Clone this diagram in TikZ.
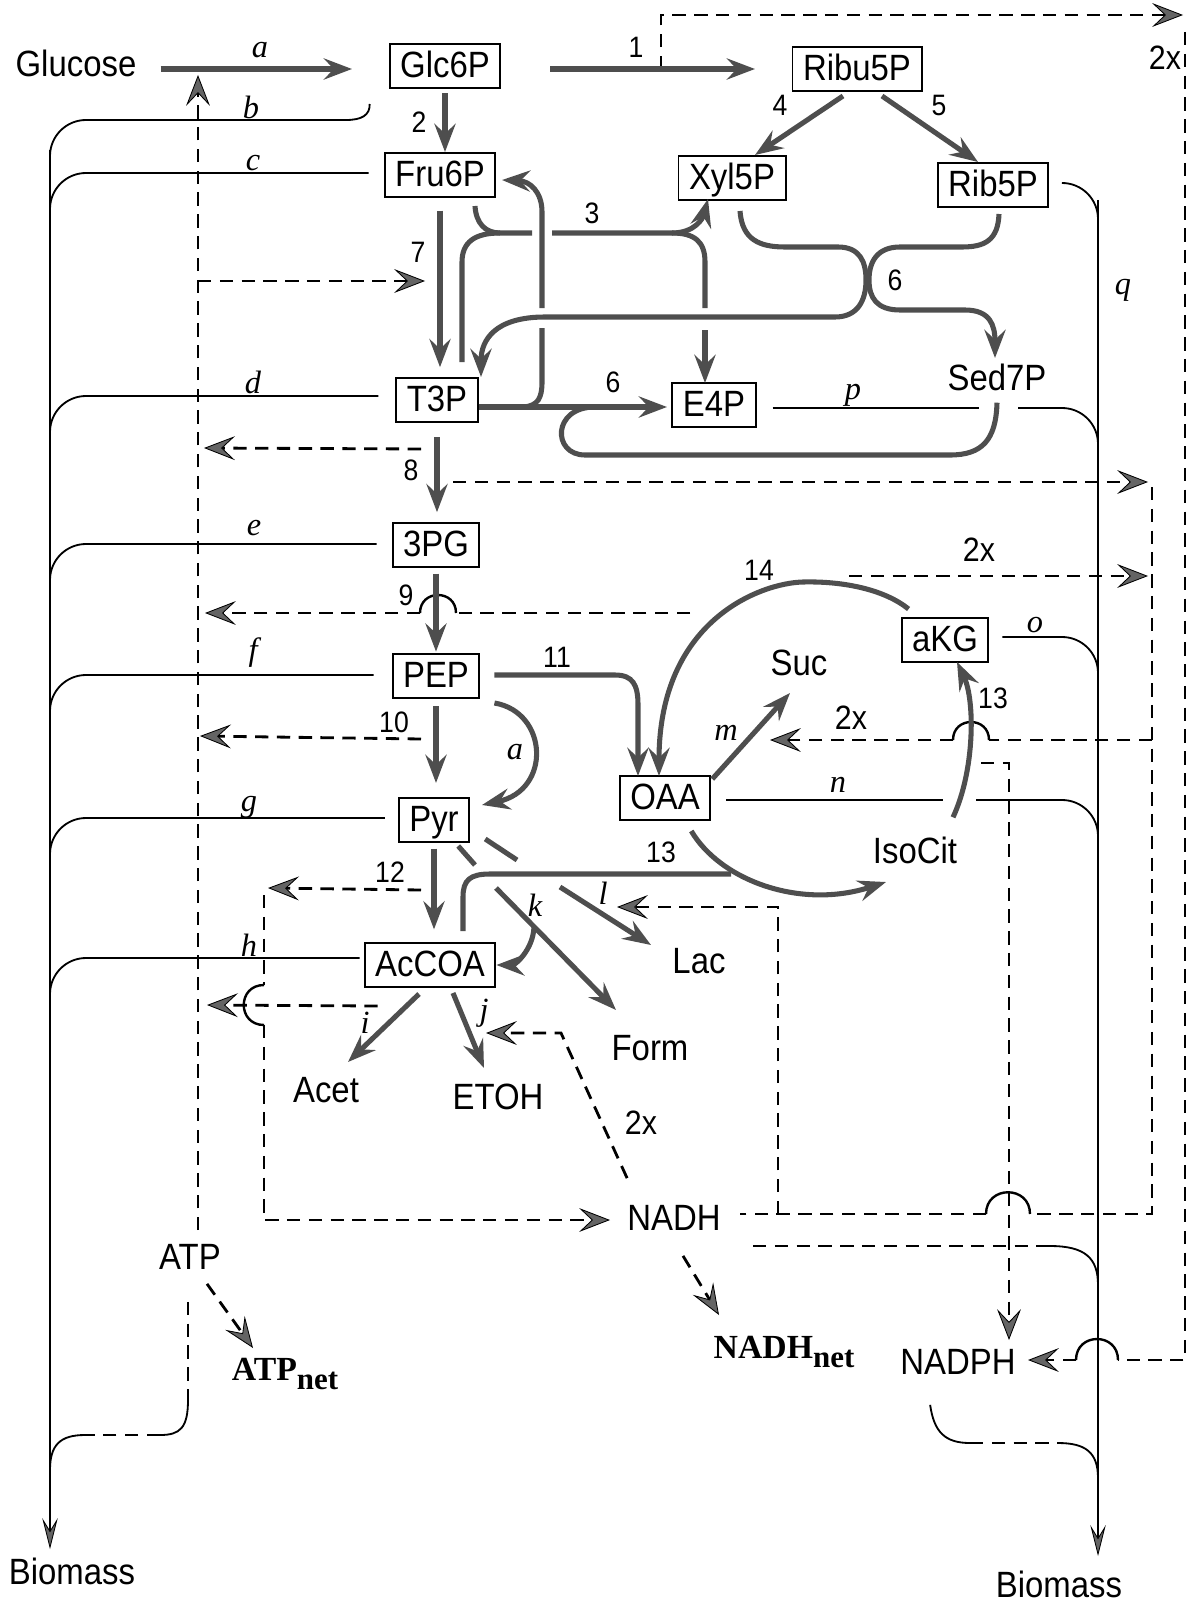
\documentclass[tikz,border=0pt]{standalone}
\usepackage{fontspec}
\setmainfont{Liberation Serif}
\setsansfont{Liberation Sans}[FakeStretch=0.9]
\usetikzlibrary{arrows.meta,positioning}

\definecolor{rxngray}{RGB}{78,78,78}
\definecolor{tipgray}{RGB}{100,100,100}

\newcommand\metfont{\sffamily\fontsize{26}{30}\selectfont}
\newcommand\numfont{\sffamily\fontsize{21}{25}\selectfont}
\newcommand\twoxfont{\sffamily\fontsize{24}{28}\selectfont}
\newcommand\fluxfont{\rmfamily\itshape\fontsize{23}{27}\selectfont}
\newcommand\netfont{\rmfamily\bfseries\fontsize{24}{28}\selectfont}

\tikzset{
  rxn/.style={draw=rxngray, line width=3.6pt},
  rxnarr/.style={rxn, -{Stealth[length=20pt,width=15pt,inset=7pt]}},
  bio/.style={draw=black, line width=1.3pt},
  bioarr/.style={bio, -{Stealth[length=22pt,width=11pt,inset=9pt,fill=tipgray,line width=0.6pt]}},
  cof/.style={draw=black, line width=2pt, dash pattern=on 9.5pt off 6pt},
  cofarr/.style={cof, -{Stealth[length=22pt,width=17pt,inset=9pt,fill=tipgray,line width=0.6pt]}},
  hop/.style={draw=black, line width=1.7pt},
  met/.style={draw, line width=1.4pt, fill=white, font=\metfont,
    inner xsep=7.5pt, inner ysep=2pt, text height=18.7pt, text depth=3pt, minimum height=1.1cm},
  lbl/.style={font=\metfont, inner sep=0pt},
  num/.style={font=\numfont, inner sep=0pt},
  twox/.style={font=\twoxfont, inner sep=0pt},
  flux/.style={font=\fluxfont, inner sep=0pt},
  net/.style={font=\netfont, inner sep=0pt},
}

\begin{document}
\begin{tikzpicture}[x=0.025cm,y=-0.025cm]
\useasboundingbox (0,0) rectangle (1201,1602);

% metabolites
\node[lbl] (glucose) at (76,63) {Glucose};
\node[met] (glc6p) at (445,66) {Glc6P};
\node[met] (ribu5p) at (857,69) {Ribu5P};
\node[met] (xyl5p) at (732,178) {Xyl5P};
\node[met] (rib5p) at (993,185) {Rib5P};
\node[met] (fru6p) at (440,175) {Fru6P};
\node[met] (t3p) at (437,400) {T3P};
\node[met] (e4p) at (714,405) {E4P};
\node[lbl] (sed7p) at (997,377) {Sed7P};
\node[met] (pg3) at (436,545) {3PG};
\node[met] (pep) at (436,676) {PEP};
\node[met] (pyr) at (434,820) {Pyr};
\node[met] (accoa) at (430,965) {AcCOA};
\node[met] (oaa) at (665,798) {OAA};
\node[met] (akg) at (945,640) {aKG};
\node[lbl] (suc) at (799,663) {Suc};
\node[lbl] (isocit) at (915,850) {IsoCit};
\node[lbl] (lac) at (699,961) {Lac};
\node[lbl] (form) at (650,1048) {Form};
\node[lbl] (acet) at (326,1090) {Acet};
\node[lbl] (etoh) at (498,1097) {ETOH};
\node[lbl] (nadh) at (674,1218) {NADH};
\node[lbl] (atp) at (190,1257) {ATP};
\node[lbl] (nadph) at (958,1362) {NADPH};
\node[net] (atpnet) at (285,1374) {ATP\raisebox{-7pt}{\fontsize{22}{25}\selectfont net}};
\node[net] (nadhnet) at (784,1352) {NADH\raisebox{-7pt}{\fontsize{22}{25}\selectfont net}};
\node[lbl] (bmleft) at (72,1571) {Biomass};
\node[lbl] (bmright) at (1059,1584) {Biomass};

% reaction numbers
\node[num] (l1) at (636,47) {1};
\node[num] (l2) at (419,122) {2};
\node[num] (l3) at (592,213) {3};
\node[num] (l4) at (780,105) {4};
\node[num] (l5) at (939,105) {5};
\node[num] (l6a) at (895,280) {6};
\node[num] (l6b) at (613,382) {6};
\node[num] (l7) at (418,252) {7};
\node[num] (l8) at (411,470) {8};
\node[num] (l9) at (406,595) {9};
\node[num] (l10) at (394,722) {10};
\node[num] (l11) at (557,657) {11};
\node[num] (l12) at (390,872) {12};
\node[num] (l13a) at (993,698) {13};
\node[num] (l13b) at (661,852) {13};
\node[num] (l14) at (759,570) {14};
\node[twox] (x1) at (1165,58) {2x};
\node[twox] (x2) at (979,550) {2x};
\node[twox] (x3) at (851,718) {2x};
\node[twox] (x4) at (641,1123) {2x};

% fluxes
\node[flux] (fa) at (260,50) {a};
\node[flux] (fb) at (251,107) {b};
\node[flux] (fc) at (253,163) {c};
\node[flux] (fd) at (253,382) {d};
\node[flux] (fe) at (254,528) {e};
\node[flux] (ff) at (253,653) {f};
\node[flux] (fg) at (249,807) {g};
\node[flux] (fh) at (249,945) {h};
\node[flux] (fi) at (365,1023) {i};
\node[flux] (fj) at (484,1013) {j};
\node[flux] (fk) at (535,905) {k};
\node[flux] (fl) at (603,893) {l};
\node[flux] (fm) at (726,733) {m};
\node[flux] (fn) at (838,785) {n};
\node[flux] (fo) at (1035,625) {o};
\node[flux] (fp) at (853,395) {p};
\node[flux] (fq) at (1123,290) {q};
\node[flux] (fa2) at (515,752) {a};

% biomass, left
\draw[bioarr] (50,150) -- (50,1549);
\draw[bio] (glc6p.south west) ++(-19,15) .. controls (370,115) and (362,120) .. (346,120);
\draw[bio,rounded corners=0.9cm] (346,120) -| (50,175);
\draw[bio,rounded corners=0.9cm] (fru6p.west) ++(-15,-2) -| (50,240);
\draw[bio,rounded corners=0.9cm] (t3p.west) ++(-17,-4) -| (50,460);
\draw[bio,rounded corners=0.9cm] (pg3.west) ++(-15,-1) -| (50,600);
\draw[bio,rounded corners=0.9cm] (pep.west) ++(-18,-1) -| (50,730);
\draw[bio,rounded corners=0.9cm] (pyr.west) ++(-13,-2) -| (50,870);
\draw[bio,rounded corners=0.9cm] (accoa.west) ++(-4,-7) -| (50,1020);

% biomass, right
\draw[bioarr] (1098,200) -- (1098,1556);
\draw[bio,rounded corners=0.9cm] (rib5p.east) ++(15,-2) -| (1098,240);
\draw[bio] (e4p.east) ++(16,3) -- (979,408);
\draw[bio,rounded corners=0.9cm] (1018,408) -| (1098,470);
\draw[bio,rounded corners=0.9cm] (akg.east) ++(13,-3) -| (1098,700);
\draw[bio] (oaa.east) ++(15,2) -- (943,800);
\draw[bio,rounded corners=0.9cm] (976,800) -| (1098,860);

% ATP
\draw[cofarr] (atp.north) ++(8,-14) -- (198,75);
\draw[cofarr] (198,281) -- (425,281);
\draw[cofarr] (t3p.south) ++(-16,26) -- (204,448);
\draw[cof] (690,613) -- (456,613);
\draw[hop] (456,613) .. controls (456,589) and (420,589) .. (420,613);
\draw[cofarr] (420,613) -- (205,613);
\draw[cofarr] (pep.south) ++(-15,40) -- (200,736);
\draw[cofarr] (accoa.south west) ++(14,18) -- (207,1005);
\draw[cofarr] (atp.south) ++(17,14) -- (253,1348);
\draw[cof] (atp.south) ++(-2,32) -- (188,1400);
\draw[bio] (188,1400) .. controls (188,1428) and (180,1435) .. (160,1435);
\draw[cof] (160,1435) -- (85,1435);
\draw[bio] (85,1435) .. controls (60,1435) and (50,1445) .. (50,1470);

% NADH
\draw[cofarr] (pyr.south) ++(-13,47) -- (268,888);
\draw[cof] (264,895) -- (264,985);
\draw[hop] (264,985) .. controls (237,985) and (237,1025) .. (264,1025);
\draw[cofarr] (264,1025) -- (264,1220) -- (610,1220);
\draw[cofarr] (nadh.north west) ++(0,-27) -- (561,1033) -- (486,1033);
\draw[cofarr] (453,482) -- (1148,482);
\draw[cofarr] (849,576) -- (1148,576);
\draw[cof] (1152,487) -- (1152,1214) -- (1030,1214);
\draw[hop] (1030,1214) .. controls (1030,1185) and (986,1185) .. (986,1214);
\draw[cof] (986,1214) -- (740,1214);
\draw[cofarr] (778,1214) -- (778,907) -- (617,907);
\draw[cof] (1152,740) -- (989,740);
\draw[hop] (989,740) .. controls (989,716) and (953,716) .. (953,740);
\draw[cofarr] (953,740) -- (770,740);
\draw[cofarr] (nadh.south) ++(9,25) -- (719,1315);
\draw[cof] (753,1246) -- (1050,1246);
\draw[bio] (1050,1246) .. controls (1085,1246) and (1098,1258) .. (1098,1285);

% NADPH
\draw[cofarr] (981,763) -- (1009,763) -- (1009,1340);
\draw[cofarr] (661,69) -- (661,15) -- (1183,15);
\draw[cof] (1185,32) -- (1185,1360) -- (1118,1360);
\draw[hop] (1118,1360) .. controls (1118,1332) and (1076,1332) .. (1076,1360);
\draw[cofarr] (1076,1360) -- (1028,1360);
\draw[bio] (nadph.south west) ++(30,30) .. controls (934,1432) and (945,1443) .. (970,1443);
\draw[cof] (970,1443) -- (1058,1443);
\draw[bio] (1058,1443) .. controls (1085,1443) and (1098,1452) .. (1098,1478);

% glycolysis
\draw[rxnarr] (glucose.east) ++(24,6) -- (352,69);
\draw[rxnarr,shorten <=3pt] (glc6p.south) -- (glc6p.south |- fru6p.north);
\draw[rxnarr,shorten <=9pt,shorten >=7pt] (fru6p.south) -- (fru6p.south |- t3p.north);
\draw[rxnarr,shorten <=10pt,shorten >=7pt] (t3p.south) -- (t3p.south |- pg3.north);
\draw[rxnarr,shorten <=4pt,shorten >=1pt] (pg3.south) -- (pg3.south |- pep.north);
\draw[rxnarr,shorten <=5pt,shorten >=10pt] (pep.south) -- (pep.south |- pyr.north);
\draw[rxnarr,shorten <=4pt,shorten >=9pt] (pyr.south) -- (pyr.south |- accoa.north);

% pentose phosphate
\draw[rxnarr] (glc6p.east) ++(49,3) -- (755,69);
\draw[rxnarr] (ribu5p.south) ++(-14,4) -- (755,155);
\draw[rxnarr] (ribu5p.south) ++(25,4) -- (978,162);
\draw[rxn] (fru6p.south) ++(35,8) .. controls (476,223) and (485,233) .. (500,233);
\draw[rxn] (462,362) -- (462,262) .. controls (462,242) and (475,233) .. (500,233) -- (532,233);
\draw[rxnarr] (552,233) -- (672,233) .. controls (695,233) and (703,218) .. (708,199);
\draw[rxn] (672,233) .. controls (695,233) and (705,242) .. (705,262) -- (705,308);
\draw[rxnarr] (705,330) -- (705,383);
\draw[rxn] (523,407) .. controls (538,406) and (542,398) .. (542,382) -- (542,328);
\draw[rxnarr] (542,308) -- (542,212) .. controls (542,192) and (530,181) .. (502,180);
\draw[rxnarr] (t3p.east) ++(0,7) -- (667,407);
\draw[rxn] (sed7p.south) ++(0,12) .. controls (996,440) and (982,455) .. (950,455) -- (585,455) .. controls (552,455) and (552,407) .. (595,407);
\draw[rxnarr] (xyl5p.south) ++(8,10) .. controls (742,240) and (760,247) .. (785,247) -- (838,247) .. controls (860,247) and (866,262) .. (866,280) .. controls (866,300) and (858,317) .. (835,317) -- (545,317) .. controls (495,317) and (481,340) .. (481,377);
\draw[rxnarr] (rib5p.south) ++(6,6) .. controls (998,240) and (985,247) .. (962,247) -- (900,247) .. controls (877,247) and (869,262) .. (869,280) .. controls (869,298) and (877,310) .. (900,310) -- (965,310) .. controls (990,310) and (995,325) .. (995,358);

% TCA and fermentation
\draw[rxnarr] (pep.south east) ++(14,4) .. controls (548,712) and (552,790) .. (482,805);
\draw[rxnarr] (pep.east) ++(14,-1) -- (615,675) .. controls (633,675) and (638,685) .. (638,705) -- (638,776);
\draw[rxnarr] (akg.north west) ++(8,-8) .. controls (885,590) and (845,581) .. (803,582) .. controls (761,583) and (659,620) .. (659,776);
\draw[rxnarr] (oaa.north east) ++(1,4) -- (790,693);
\draw[rxnarr] (oaa.south east) ++(-20,10) .. controls (720,880) and (800,910) .. (886,882);
\draw[rxn] (accoa.north) ++(33,-11) -- (463,897) .. controls (463,880) and (470,874) .. (490,874) -- (731,874);
\draw[rxnarr] (isocit.north) ++(38,-19) .. controls (975,770) and (975,700) .. (957,662);
\draw[rxn] (pyr.south east) ++(-12,3) -- (475,865);
\draw[rxn] (pyr.east) ++(15,19) -- (517,860);
\draw[rxnarr] (496,888) -- (616,1010);
\draw[rxnarr] (560,887) -- (651,945);
\draw[rxnarr] (534,927) .. controls (533,950) and (515,965) .. (accoa.east);
\draw[rxnarr] (accoa.south) ++(-11,6) -- (348,1062);
\draw[rxnarr] (accoa.south) ++(23,5) -- (484,1068);
\end{tikzpicture}
\end{document}
